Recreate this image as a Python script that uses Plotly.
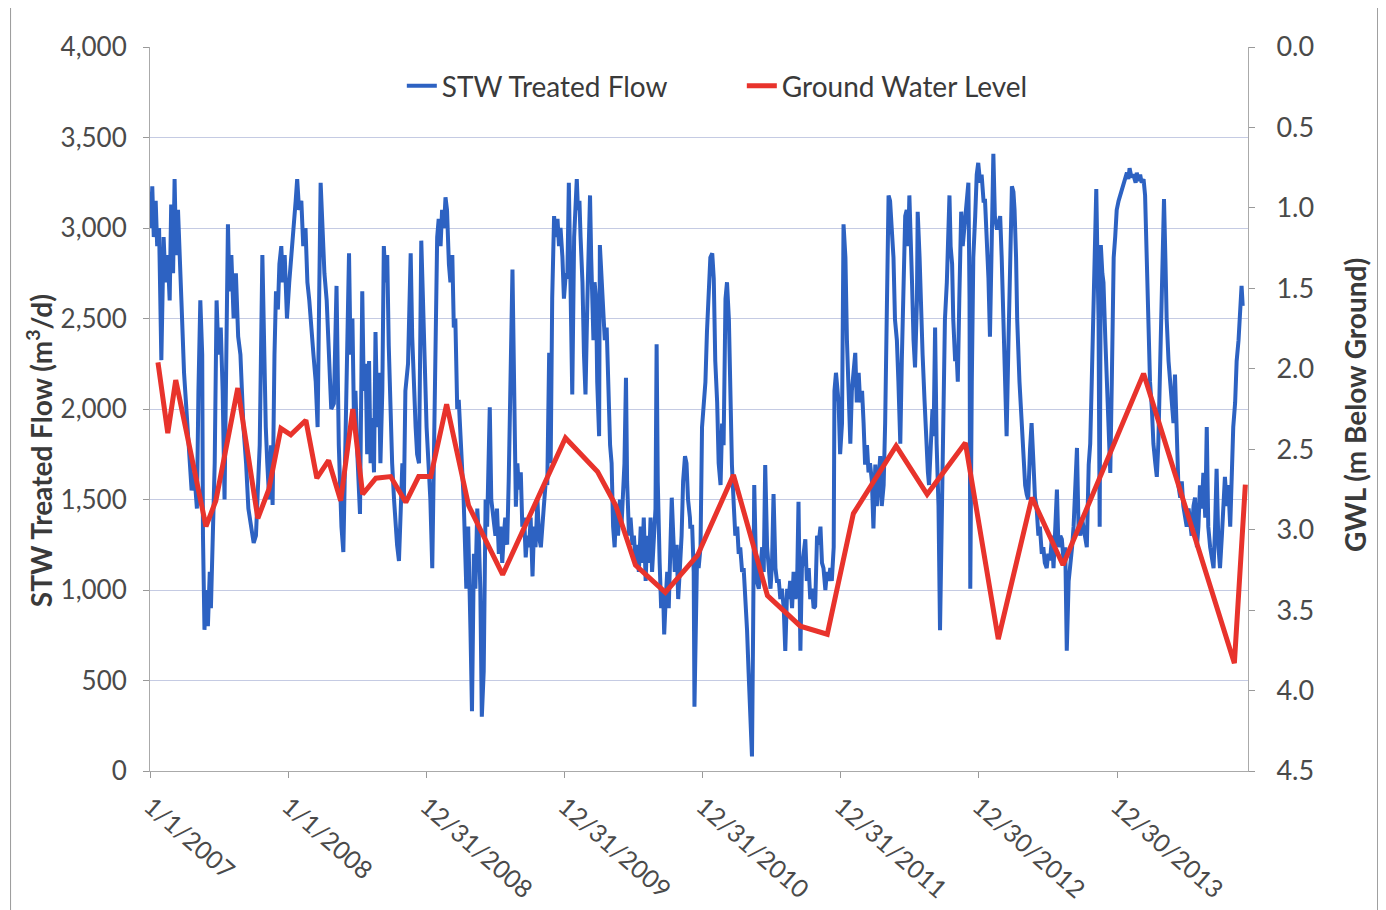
import pandas as pd
import plotly.graph_objects as go

# ---- data ----
flow_days = [
    0, 2, 5, 9, 14, 18, 23, 29, 35, 40, 46, 51, 55, 60, 64, 68, 73, 77, 82, 89, 96, 102, 109, 116, 123, 127,
    132, 137, 139, 143, 147, 152, 157, 160, 166, 170, 175, 180, 186, 191, 196, 200, 205, 209, 214, 220, 226,
    232, 238, 246, 253, 259, 266, 273, 279, 284, 289, 296, 300, 305, 309, 314, 319, 323, 328, 332, 337, 341,
    346, 350, 355, 361, 367, 373, 378, 384, 388, 393, 399, 404, 410, 415, 420, 426, 431, 437, 442, 446, 450,
    455, 460, 466, 471, 478,
    485, 492, 498, 505, 510, 516, 520, 525, 529, 534, 538, 542, 547, 554, 560, 564, 569, 573, 578, 582, 586,
    591, 595, 600, 604, 608, 613, 617, 622, 626, 630, 635, 639, 644, 648, 652, 657, 661, 666, 670, 674, 681,
    688, 692, 696, 701, 705, 710, 716, 720, 725, 730, 735, 740, 745, 749, 754, 758, 762, 767, 771, 776, 780,
    784, 789, 793, 798, 802, 806, 811, 815, 820, 824, 828, 835, 840, 846, 850, 855, 859, 864, 868, 872, 876,
    881, 886, 890, 897, 901, 906, 912, 916, 921, 925, 930, 934, 938, 943, 947,
    957, 961, 966, 970, 974, 979, 983, 988, 992, 996, 1001, 1005, 1010, 1014, 1018, 1023, 1027, 1032, 1036,
    1040, 1045, 1049, 1054, 1058, 1062, 1067, 1071, 1076, 1080, 1084, 1089, 1093, 1098, 1102, 1106, 1111,
    1115, 1120, 1124, 1127, 1130, 1134, 1137, 1142, 1146, 1150, 1155, 1159, 1162, 1165, 1171, 1174, 1178,
    1181, 1186, 1188, 1192, 1195, 1201, 1206, 1210, 1215, 1219, 1223, 1227, 1231, 1236, 1241, 1245, 1250,
    1253, 1257, 1260, 1265, 1269, 1274, 1278, 1282, 1287, 1291, 1296, 1300, 1304, 1309, 1313, 1318, 1322,
    1326, 1331, 1335, 1338, 1341, 1346, 1350, 1355, 1358, 1362, 1366, 1370, 1375, 1378, 1382, 1386, 1391,
    1395, 1399, 1404, 1408, 1413, 1417, 1421, 1426,
    1427, 1432, 1436, 1438, 1441, 1445, 1449, 1454, 1458, 1463, 1467, 1471, 1476, 1480, 1485, 1489, 1493,
    1498, 1502, 1507, 1511, 1515, 1520, 1524, 1529, 1533, 1537, 1542, 1546, 1551, 1555, 1559, 1564, 1568,
    1573, 1577, 1581, 1586, 1590, 1593, 1596, 1600, 1603, 1608, 1612, 1617, 1621, 1625, 1630, 1634, 1639,
    1643, 1647, 1652, 1656, 1661, 1665, 1669, 1674, 1678, 1683, 1687, 1691, 1696, 1700, 1705, 1709, 1713,
    1718, 1722, 1727, 1731, 1735, 1740, 1744, 1749, 1753, 1757, 1762, 1766, 1771, 1775, 1779, 1784, 1788,
    1793, 1797, 1801, 1806, 1808, 1812, 1815, 1819, 1823, 1828, 1832, 1837, 1841, 1845, 1850, 1854, 1859,
    1863, 1867, 1872, 1876, 1881, 1885, 1889, 1894, 1898,
    1902, 1907, 1911, 1916, 1920, 1924, 1929, 1933, 1938, 1942, 1946, 1951, 1955, 1960, 1964, 1968, 1973,
    1977, 1982, 1986, 1990, 1995, 1999, 2003, 2006, 2010, 2013, 2017, 2021, 2026, 2028, 2033, 2037, 2041,
    2046, 2050, 2055, 2058, 2063, 2067, 2070, 2074, 2078, 2083, 2087, 2092, 2096, 2100, 2105, 2109, 2112,
    2115, 2119, 2122, 2127, 2131, 2134, 2138, 2143, 2147, 2151, 2156, 2159, 2162, 2165, 2167, 2171, 2175,
    2180, 2184, 2188, 2193, 2197, 2202, 2206, 2210, 2215, 2219, 2224, 2228, 2232, 2237, 2241, 2246, 2250,
    2254, 2259, 2263, 2268, 2272, 2275, 2277, 2281, 2284, 2288, 2291, 2297, 2303, 2307, 2312, 2316, 2320,
    2325, 2329, 2334, 2338, 2342, 2347, 2351, 2356, 2360, 2364, 2369, 2373, 2378,
    2383, 2387, 2392, 2396, 2400, 2405, 2409, 2414, 2418, 2422, 2427, 2431, 2436, 2440, 2444, 2449, 2453,
    2458, 2462, 2466, 2471, 2475, 2480, 2484, 2488, 2491, 2495, 2497, 2500, 2503, 2506, 2509, 2512, 2516,
    2519, 2524, 2528, 2532, 2537, 2541, 2546, 2550, 2554, 2559, 2563, 2568, 2572, 2576, 2581, 2585, 2588,
    2593, 2598, 2604, 2607, 2612, 2616, 2620, 2625, 2629, 2634, 2638, 2642, 2647, 2651, 2656, 2660, 2664,
    2669, 2673, 2676, 2679, 2683, 2686, 2691, 2695, 2700, 2704, 2708, 2713, 2717, 2722, 2726, 2730, 2735,
    2739, 2744, 2748, 2752, 2757, 2761, 2766, 2770, 2774, 2779, 2783, 2788, 2792, 2796, 2801, 2805, 2810,
    2814, 2818, 2823, 2827, 2832, 2836, 2840, 2845, 2849, 2854, 2858, 2862, 2867, 2871, 2876, 2880, 2884,
    2887,
]
flow_values = [
    3200, 3000, 3230, 2950, 3150, 2900, 3000, 2270, 2950, 2700, 2850, 2600, 3130, 2750, 3270, 2850, 3100,
    2800, 2600, 2200, 1950, 1750, 1550, 1650, 1450, 2100,
    2600, 2300, 1300, 780, 1000, 800, 1100, 900, 1300, 1700, 2600, 2300, 2450, 2100, 1500, 2400, 3020, 2650,
    2850, 2500, 2750,
    2400, 2300, 1900, 1700, 1450, 1350, 1260, 1300, 1550, 1800, 2850, 2300, 1900, 1700, 1500, 1800, 1470,
    2300, 2650, 2550, 2800,
    2900, 2700, 2850, 2500, 2700, 2850, 2950, 3150, 3270, 3100, 3150, 2900, 3000, 2700, 2600, 2400, 2300,
    2150, 1900, 2600, 3250,
    3000, 2750, 2600, 2350, 2000,
    2030, 2680, 1800, 1350, 1210, 1900, 2100, 2860, 2300, 2500, 1950, 2100, 1750, 1420, 2650, 2100, 2250,
    1750, 2265, 1700, 1950,
    1650, 2425, 1900, 2200, 1700, 2100, 2900, 2700, 2850, 2350, 1900, 1700, 1500, 1350, 1250, 1160, 1400,
    1700, 1500, 2100, 2250,
    2860, 2400, 2100, 1900, 1750, 1700, 2930, 2600, 2300, 1900, 1700, 1500, 1120, 1700, 2600, 2950, 3050,
    2900, 3100, 3000, 3170,
    3100, 2800, 2700, 2850, 2450, 2500, 2000, 2050, 1800, 1650, 1500, 1007, 1350, 778, 330, 1200, 1007, 1450,
    1300, 1007, 300,
    550, 1500, 1350, 2010, 1500, 1400, 1300, 1450, 1200, 1350, 1150, 1300, 1400, 1250, 1600,
    2770, 2000, 1460, 1700, 1555, 1650, 1350, 1400, 1180, 1300, 1236, 1400, 1075, 1350, 1236, 1500, 1300,
    1236, 1400,
    1464, 1600, 1580, 2310, 1700, 2610, 3066, 2950, 3050, 2900, 3000, 2840, 2610, 2750, 2720, 3250, 2610,
    2080, 2950, 3150, 3270, 3100, 3150, 2950, 2700, 2300, 2080, 2600, 2900, 3180, 2840, 2380, 2700, 2610,
    2150, 1850, 2906, 2750, 2650, 2380, 2450, 2100, 1800, 1700, 1350, 1236, 1450, 1300, 1500, 1350, 1550,
    1700, 2173, 1600, 1300, 1400, 1250, 1300, 1150, 1250, 1100, 1350, 1150, 1400, 1050, 1300, 1150, 1400,
    1100, 1300, 1450, 2357, 1600, 1150, 900, 1000, 755, 950, 1100, 900, 1350, 1510, 1300, 1100, 1250,
    950, 1100, 1300, 1600, 1740, 1700, 1500, 1400,
    1350, 1350, 1100, 355, 900, 1200, 1121, 1236, 1900, 2036, 2150, 2425, 2720, 2837, 2860, 2720, 2265,
    2036, 1700, 1580, 1920, 1800, 2608, 2700, 2494, 1922, 1693, 1464, 1300, 1350, 1200, 1236, 1100, 1121,
    950, 778, 549, 320, 80, 778, 1580, 1200, 1050, 1007, 1150, 1236, 1100, 1690, 1236, 1100, 1007,
    1150, 1530, 1121, 1050, 1050, 950, 1007, 900, 664, 1007, 950, 1050, 900, 1100, 950, 1007, 1487,
    664, 1121, 1200, 1280, 1050, 1121, 950, 1007, 900, 910, 1300, 1250, 1350, 1150, 1121, 1000, 1100,
    1050, 1121, 1050, 1236, 2100, 2200, 2100, 2036, 1750, 1922, 3020, 2837, 2380, 2150, 1808, 2100, 2250,
    2310, 2036, 2200, 2036, 2100, 1922, 1693, 1800, 1650,
    1700, 1600, 1340, 1693, 1464, 1579, 1740, 1464, 1579, 1922, 2608, 3180, 3150, 2950, 2837, 2494, 2380,
    2151, 1808, 2265, 2608, 3066, 3100, 2900, 3180, 2950, 2700, 2380, 2230, 2600, 3090, 2837, 2500, 2300,
    2050, 1800, 1650, 1580, 1850, 2000, 1850, 2450, 1808, 1464, 778, 1464, 1922, 2494, 2700, 3000, 3180,
    2900, 2800, 2494, 2265, 2300, 2151, 2608, 3090, 2900, 3000, 3066, 3150, 3250, 2608, 1007, 2151, 2837,
    3066, 3295, 3360, 3250, 3295, 3150, 3150, 3000, 2723, 2400, 2837, 3410, 3066, 3000, 3000, 3066, 2837,
    2494, 2151, 1850, 2380, 2837, 3100, 3230, 3200, 3100, 2837, 2494, 2151, 1922, 1693, 1579, 1530, 1500,
    1780, 1922, 1700, 1510, 1464, 1300, 1350, 1200, 1236, 1150, 1121, 1200, 1164,
    1300, 1121, 1350, 1555, 1236, 1300, 1280, 1150, 1236, 664, 1050, 1121, 1236, 1350, 1500, 1785, 1350,
    1300, 1400, 1350, 1300, 1236, 1693, 1808, 2150, 2380, 2837, 2950, 3215, 2837, 2494, 1350, 2906, 2750,
    2700, 2380, 2151, 1922, 1647, 2151, 2837, 2951, 3100, 3150, 3180, 3220, 3250, 3280, 3306, 3270, 3330,
    3280, 3295, 3250, 3306, 3260, 3295, 3250, 3270, 3180, 2723, 2494, 2151, 2000, 1808, 1700, 1625, 1808,
    2265, 2608, 2900, 3160, 2800, 2500, 2265, 2151, 2036, 1922, 2190, 1922, 1579, 1510, 1600, 1464, 1400,
    1350, 1450, 1350, 1300, 1464, 1510, 1236, 1350, 1579, 1450, 1647, 1400, 1900, 1350, 1236, 1164, 1121,
    1350, 1670, 1236, 1121, 1300, 1500, 1625, 1464, 1579, 1350, 1693, 1900, 2036, 2265, 2380, 2494, 2680,
    2570,
]

gwl_days = [20, 46, 67, 94, 147, 173, 231, 284, 313, 345, 371, 411, 440, 471, 503, 535, 561, 596, 635, 675,
            709, 741, 783, 841, 931, 1097, 1182, 1230, 1282, 1361, 1446, 1541, 1631, 1718, 1789, 1858, 1971,
            2053, 2154, 2241, 2330, 2412, 2625, 2865, 2894]
gwl_values = [1.96, 2.40, 2.07, 2.38, 2.98, 2.82, 2.12, 2.93, 2.75, 2.37, 2.41, 2.32, 2.68, 2.57, 2.82, 2.25,
              2.78, 2.68, 2.67, 2.83, 2.67, 2.67, 2.22, 2.85, 3.28, 2.43, 2.64, 2.85, 3.22, 3.39, 3.16, 2.66,
              3.41, 3.60, 3.65, 2.90, 2.48, 2.78, 2.46, 3.68, 2.80, 3.22, 2.03, 3.83, 2.72]

tick_dates = ["2007-01-01", "2008-01-01", "2008-12-31", "2009-12-31", "2010-12-31",
              "2011-12-31", "2012-12-30", "2013-12-30"]
tick_labels = ["1/1/2007", "1/1/2008", "12/31/2008", "12/31/2009", "12/31/2010",
               "12/31/2011", "12/30/2012", "12/30/2013"]

start = pd.Timestamp("2007-01-01")
flow_dates = start + pd.to_timedelta(flow_days, unit="D")
gwl_dates = start + pd.to_timedelta(gwl_days, unit="D")

FONT = "Lato"
TXT = "#4a4a4a"
GRID = "#c5cbe3"

fig = go.Figure()
fig.add_trace(go.Scatter(x=flow_dates, y=flow_values, mode="lines", name="STW Treated Flow",
                         line=dict(color="#2d62c2", width=4)))
fig.add_trace(go.Scatter(x=gwl_dates, y=gwl_values, mode="lines", name="Ground Water Level",
                         yaxis="y2", line=dict(color="#e8332c", width=5)))

fig.update_layout(
    width=1378, height=902,
    margin=dict(l=142, r=138, t=39, b=139),
    paper_bgcolor="white", plot_bgcolor="white",
    font=dict(family=FONT, color=TXT),
    showlegend=True,
    legend=dict(orientation="h", x=0.539, xanchor="center", y=0.946, yanchor="middle",
                font=dict(size=28, color="#3a3a3a", family=FONT), bgcolor="rgba(0,0,0,0)",
                entrywidth=295, entrywidthmode="pixels", tracegroupgap=0),
    xaxis=dict(type="date", range=["2006-12-31", "2014-12-11"], automargin=False,
               tickmode="array", tickvals=tick_dates, ticktext=tick_labels, tickangle=41,
               tickfont=dict(size=25, color=TXT), ticks="outside", ticklen=6, tickcolor="#999",
               ticklabelstandoff=4,
               showgrid=False, showline=True, linecolor="#aaaaaa", linewidth=1, zeroline=False),
    yaxis=dict(range=[0, 4000], dtick=500, tickformat=",", tickfont=dict(size=26, color=TXT),
               automargin=False, ticks="outside", ticklen=6, tickcolor="#999", ticklabelstandoff=11,
               showgrid=True, gridcolor=GRID, gridwidth=1, showline=True, linecolor="#aaaaaa",
               zeroline=False),
    yaxis2=dict(range=[4.5, 0], dtick=0.5, tickformat=".1f", overlaying="y", side="right",
                automargin=False, tickfont=dict(size=27, color=TXT), ticks="outside", ticklen=6,
                tickcolor="#999", ticklabelstandoff=16,
                showgrid=False, showline=True, linecolor="#aaaaaa", zeroline=False),
    annotations=[
        dict(text="<b>STW Treated Flow (m<sup>3</sup>/d)</b>", xref="paper", yref="paper",
             x=-0.1, y=0.442, xanchor="center", yanchor="middle", textangle=-90, showarrow=False,
             font=dict(size=28, color="#3a3a3a", family=FONT)),
        dict(text="<b>GWL (m Below Ground)</b>", xref="paper", yref="paper",
             x=1.0974, y=0.5055, xanchor="center", yanchor="middle", textangle=-90, showarrow=False,
             font=dict(size=28, color="#3a3a3a", family=FONT)),
    ],
    shapes=[
        dict(type="line", xref="paper", yref="paper", x0=-0.127, x1=-0.127, y0=-0.2, y1=1.058,
             line=dict(color="#9a9a9a", width=1)),
        dict(type="line", xref="paper", yref="paper", x0=1.118, x1=1.118, y0=-0.2, y1=1.058,
             line=dict(color="#9a9a9a", width=1)),
        dict(type="line", xref="paper", yref="paper", x0=-0.127, x1=1.118, y0=1.058, y1=1.058,
             line=dict(color="#9a9a9a", width=1)),
    ],
)

fig.write_html("out.html")
